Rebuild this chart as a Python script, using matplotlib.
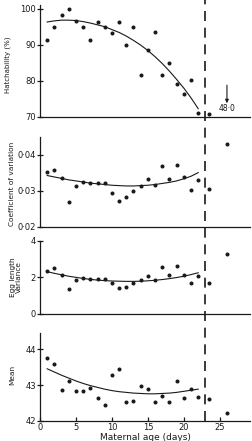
import matplotlib
matplotlib.use("Agg")
import matplotlib.pyplot as plt
from matplotlib.lines import Line2D
from matplotlib.ticker import FuncFormatter
import matplotlib.transforms as mtransforms

# maternal age (days) for the regular points
DAYS = list(range(1, 23))
EXTRA_DAYS = [23.5, 26]
CURVE_DAYS = list(range(1, 23))
CUTOFF_DAY = 23

HATCH = [91.4, 95.0, 98.2, 100.0, 96.5, 95.0, 91.4, 96.3, 95.0, 93.3, 96.3,
         90.0, 94.8, 81.5, 88.5, 93.4, 81.5, 85.0, 79.1, 76.5, 80.2, 71.2]
HATCH_EXTRA = [70.9]
HATCH_OFFSCALE = 48.0
HATCH_CURVE = [96.3, 96.6, 96.8, 96.8, 96.7, 96.4, 96.0, 95.5, 95.0, 94.2, 93.4,
               92.4, 91.2, 89.9, 88.4, 86.7, 84.8, 82.7, 80.4, 78.0, 75.3, 72.3]

CV = [0.0352, 0.0356, 0.0335, 0.0268, 0.0313, 0.0324, 0.0321, 0.0321, 0.0320,
      0.0294, 0.0271, 0.0283, 0.0300, 0.0312, 0.0333, 0.0316, 0.0369, 0.0333,
      0.0372, 0.0337, 0.0301, 0.0330]
CV_EXTRA = [0.0304, 0.0430]
CV_CURVE = [0.0342, 0.0338, 0.0334, 0.0330, 0.0327, 0.0324, 0.0321, 0.0319,
            0.0317, 0.0315, 0.0314, 0.0313, 0.0313, 0.0314, 0.0315, 0.0317,
            0.0320, 0.0323, 0.0327, 0.0333, 0.0340, 0.0350]

VAR = [2.33, 2.49, 2.13, 1.36, 1.85, 1.95, 1.91, 1.91, 1.89, 1.71, 1.40, 1.45,
       1.67, 1.84, 2.09, 1.85, 2.55, 2.11, 2.60, 2.11, 1.67, 2.05]
VAR_EXTRA = [1.69, 3.25]
VAR_CURVE = [2.31, 2.22, 2.14, 2.06, 2.00, 1.94, 1.89, 1.85, 1.82, 1.80, 1.79,
             1.78, 1.78, 1.79, 1.81, 1.84, 1.88, 1.93, 1.99, 2.06, 2.15, 2.25]

MEAN = [43.75, 43.60, 42.88, 43.13, 42.84, 42.83, 42.92, 42.64, 42.45, 43.29,
        43.45, 42.54, 42.55, 42.97, 42.89, 42.54, 42.69, 42.53, 43.13, 42.64,
        42.90, 42.67]
MEAN_EXTRA = [42.62, 42.21]
MEAN_CURVE = [43.46, 43.37, 43.28, 43.20, 43.12, 43.05, 42.99, 42.94, 42.89,
              42.85, 42.82, 42.80, 42.78, 42.77, 42.76, 42.76, 42.77, 42.78,
              42.80, 42.83, 42.86, 42.89]

INK = "#1a1a1a"
FS = 6
LFS = 5.3   # y label size


def dot_fmt(ndec):
    return FuncFormatter(lambda v, _: f"{v:.{ndec}f}".replace(".", "\u00b7"))


def style_ax(ax, ylim, yticks, bottom=False):
    ax.set_xlim(0, 29.2)
    ax.set_ylim(*ylim)
    ax.set_yticks(yticks)
    for s in ("top", "right"):
        ax.spines[s].set_visible(False)
    for s in ("left", "bottom"):
        ax.spines[s].set_color(INK)
        ax.spines[s].set_linewidth(0.9)
    ax.tick_params(axis="y", direction="inout", length=4, width=0.9,
                   labelsize=FS, colors=INK, pad=1)
    if bottom:
        ax.set_xticks([0, 5, 10, 15, 20, 25])
        ax.tick_params(axis="x", direction="in", length=3, width=0.9,
                       labelsize=FS, colors=INK, pad=1.5)
    else:
        ax.set_xticks([])


def draw(ax, vals, extra, curve, extra_days):
    ax.plot(CURVE_DAYS, curve, color=INK, lw=0.8)
    ax.plot(DAYS, vals, "o", ms=1.9, color=INK, clip_on=False, lw=0)
    ax.plot(extra_days, extra, "o", ms=1.9, color=INK, clip_on=False, lw=0)


fig = plt.figure(figsize=(2.53, 4.41), dpi=100)
L, W = 0.158, 0.830
ax1 = fig.add_axes([L, 0.7347, W, 0.2540])
ax2 = fig.add_axes([L, 0.4860, W, 0.2034])
ax3 = fig.add_axes([L, 0.2880, W, 0.1662])
ax4 = fig.add_axes([L, 0.0454, W, 0.2002])

style_ax(ax1, (70, 101), [70, 80, 90, 100])
draw(ax1, HATCH, HATCH_EXTRA, HATCH_CURVE, EXTRA_DAYS[:1])
# off-scale value marked with an arrow
ax1.text(EXTRA_DAYS[1], 71.0, f"{HATCH_OFFSCALE:.1f}".replace(".", "\u00b7"),
         ha="center", va="bottom", fontsize=FS - 0.5, color=INK)
ax1.annotate("", xy=(EXTRA_DAYS[1], 73.8), xytext=(EXTRA_DAYS[1], 78.8),
             arrowprops=dict(arrowstyle="-|>", color=INK, lw=0.8,
                             mutation_scale=5, shrinkA=0, shrinkB=0))
ax1.set_ylabel("Hatchability (%)", fontsize=LFS - 0.3, color=INK)
ax1.yaxis.set_label_coords(-0.14, 0.47)

style_ax(ax2, (0.02, 0.0449), [0.02, 0.03, 0.04])
ax2.yaxis.set_major_formatter(dot_fmt(2))
draw(ax2, CV, CV_EXTRA, CV_CURVE, EXTRA_DAYS)
ax2.set_ylabel("Coefficient of variation", fontsize=LFS, color=INK)
ax2.yaxis.set_label_coords(-0.12, 0.48)

style_ax(ax3, (0, 4), [0, 2, 4])
draw(ax3, VAR, VAR_EXTRA, VAR_CURVE, EXTRA_DAYS)
ax3.set_ylabel("Egg length\nVariance", fontsize=LFS, color=INK, linespacing=1.1)
ax3.yaxis.set_label_coords(-0.085, 0.5)

style_ax(ax4, (42, 44.47), [42, 43, 44], bottom=True)
draw(ax4, MEAN, MEAN_EXTRA, MEAN_CURVE, EXTRA_DAYS)
ax4.set_ylabel("Mean", fontsize=LFS, color=INK)
ax4.yaxis.set_label_coords(-0.12, 0.52)
ax4.set_xlabel("Maternal age (days)", fontsize=FS + 0.5, color=INK, labelpad=0.5)

# dashed cut-off line through all panels
trans = mtransforms.blended_transform_factory(ax4.transData, fig.transFigure)
fig.add_artist(Line2D([CUTOFF_DAY, CUTOFF_DAY], [0.0454, 1.0], transform=trans,
                      color=INK, lw=1.2, dashes=(6, 4)))

fig.savefig("out.png", dpi=100, facecolor="white")
